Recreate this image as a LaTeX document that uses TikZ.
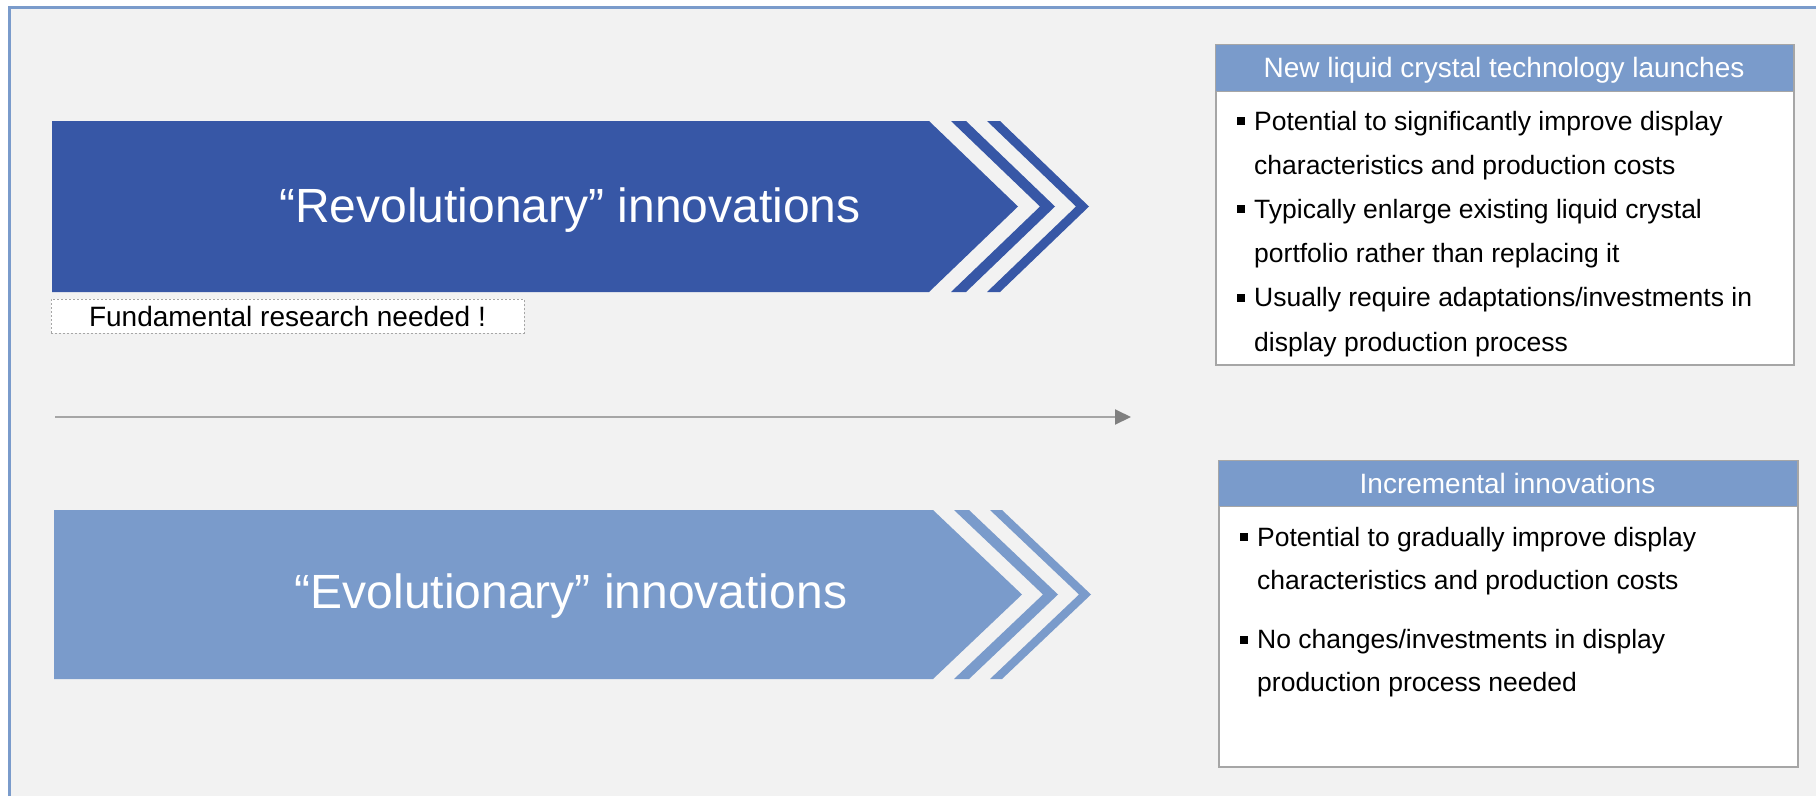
\documentclass[tikz,border=0pt]{standalone}
\usepackage{fontspec}
\setmainfont{Liberation Sans}
\usepackage{xcolor}
\usetikzlibrary{arrows.meta}

\definecolor{darkblue}{HTML}{3757A6}
\definecolor{lightblue}{HTML}{7A9BCB}
\definecolor{panelgray}{HTML}{F2F2F2}
\definecolor{linegray}{HTML}{A6A6A6}
\definecolor{tipgray}{HTML}{808080}

\tikzset{
  bigtext/.style={text=white, inner sep=0pt, font=\fontsize{48}{56}\selectfont},
  headbox/.style={fill=lightblue, draw=linegray, line width=1pt, text=white, inner sep=0pt, text depth=0pt, font=\fontsize{28}{32}\selectfont},
  listbox/.style={fill=white, draw=linegray, line width=1.5pt, inner sep=0pt, anchor=north west},
  itemtext/.style={anchor=base west, inner sep=0pt, font=\fontsize{26.5}{32}\selectfont},
  bullet/.style={fill=black, minimum size=8pt, inner sep=0pt},
}

\begin{document}
\begin{tikzpicture}[x=1pt,y=-1pt]
\useasboundingbox (0,0) rectangle (1816,796);
\fill[white] (0,0) rectangle (1816,796);
\fill[panelgray] (11,9) rectangle (1816,796);
\draw[lightblue, line width=3pt] (9.5,796) -- (9.5,7.5) -- (1816,7.5);

% revolutionary
\fill[darkblue] (52,121) -- (929,121) -- (1018,206.5) -- (929,292) -- (52,292) -- cycle;
\foreach \a/\b in {951/966,987/1000}
  \fill[darkblue] (\a,121) -- (\b,121) -- ({\b+89},206.5) -- (\b,292) -- (\a,292) -- ({\a+89},206.5) -- cycle;
\node[bigtext] (rev) at (570,210) {“Revolutionary” innovations};
\node[draw=linegray, dash pattern=on 2pt off 2pt, fill=white, inner sep=0pt,
  minimum width=473pt, minimum height=34pt, font=\fontsize{28}{32}\selectfont]
  (fund) at (287.5,316) {Fundamental research needed !};

% time line
\coordinate (tstart) at (55,417);
\coordinate (tend) at (1131,417);
\draw[linegray, line width=2pt, -{Triangle[length=16pt,width=15pt,color=tipgray]}] (tstart) -- (tend);

% evolutionary
\fill[lightblue] (54,510) -- (933,510) -- (1022,594.5) -- (933,679) -- (54,679) -- cycle;
\foreach \a/\b in {954/969,990/1002}
  \fill[lightblue] (\a,510) -- (\b,510) -- ({\b+89},594.5) -- (\b,679) -- (\a,679) -- ({\a+89},594.5) -- cycle;
\node[bigtext] (evo) at (571,596) {“Evolutionary” innovations};

% new liquid crystal box
\node[listbox, minimum width=578pt, minimum height=320pt] (newbox) at (1215,44) {};
\node[headbox, minimum width=578pt, minimum height=47pt] (newhead) at (1504,67.5) {New liquid crystal technology launches};
\foreach \t [count=\i] in {Potential to significantly improve display, characteristics and production costs,
  Typically enlarge existing liquid crystal, portfolio rather than replacing it,
  Usually require adaptations/investments in, display production process}
  \node[itemtext] (newl\i) at (1254,{130+44.2*(\i-1)}) {\t};
\foreach \i in {1,3,5}
  \node[bullet] (newb\i) at (1241,{121+44.2*(\i-1)}) {};

% incremental box
\node[listbox, minimum width=579pt, minimum height=306pt] (incbox) at (1218,460) {};
\node[headbox, minimum width=579pt, minimum height=46pt] (inchead) at (1507.5,483) {Incremental innovations};
\node[itemtext] (incl1) at (1257,546) {Potential to gradually improve display};
\node[itemtext] (incl2) at (1257,589) {characteristics and production costs};
\node[itemtext] (incl3) at (1257,648) {No changes/investments in display};
\node[itemtext] (incl4) at (1257,691) {production process needed};
\node[bullet] (incb1) at (1244,537) {};
\node[bullet] (incb3) at (1244,639.5) {};
\end{tikzpicture}
\end{document}
